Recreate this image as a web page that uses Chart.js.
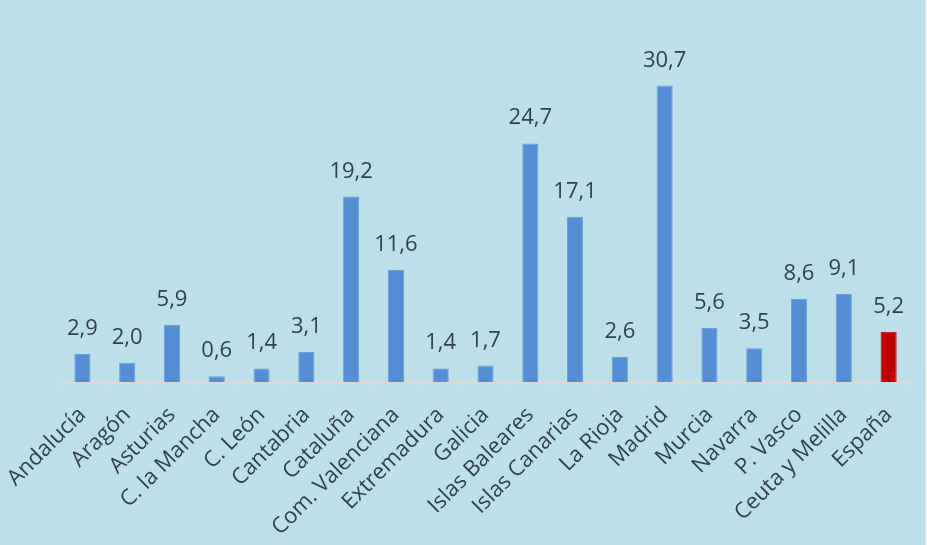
<!DOCTYPE html>
<html><head><meta charset="utf-8">
<script src="https://cdn.jsdelivr.net/npm/chart.js@4.4.1/dist/chart.umd.min.js"></script>
<style>
html,body{margin:0;padding:0;background:#ffffff;}
#wrap{width:926px;height:545px;background:#BCDFE9;}
</style></head>
<body><div id="wrap"><canvas id="c" width="926" height="545"></canvas></div>
<script>
const categories = ["Andalucía","Aragón","Asturias","C. la Mancha","C. León","Cantabria","Cataluña","Com. Valenciana","Extremadura","Galicia","Islas Baleares","Islas Canarias","La Rioja","Madrid","Murcia","Navarra","P. Vasco","Ceuta y Melilla","España"];
const values = [2.9,2.0,5.9,0.6,1.4,3.1,19.2,11.6,1.4,1.7,24.7,17.1,2.6,30.7,5.6,3.5,8.6,9.1,5.2];
const highlight = "España";

const textColor = "#333F4F";
const barColors = categories.map(c => c === highlight ? "#C00000" : "#558ED5");
const borderColors = categories.map(c => c === highlight ? "#C00000" : "#6C9DDC");

const valueLabels = {
  id: "valueLabels",
  afterDatasetsDraw(chart) {
    const ctx = chart.ctx;
    const meta = chart.getDatasetMeta(0);
    ctx.save();
    ctx.font = "22px 'Open Sans'";
    ctx.fillStyle = textColor;
    ctx.textAlign = "center";
    ctx.textBaseline = "alphabetic";
    meta.data.forEach((bar, i) => {
      ctx.fillText(values[i].toFixed(1).replace(".", ","), bar.x, bar.y - 19);
    });
    ctx.restore();
  }
};

new Chart(document.getElementById("c"), {
  type: "bar",
  data: {
    labels: categories,
    datasets: [{
      data: values,
      backgroundColor: barColors,
      borderColor: borderColors,
      borderWidth: 1,
      barPercentage: 0.36,
      categoryPercentage: 1.0
    }]
  },
  options: {
    responsive: false,
    animation: false,
    layout: { padding: { left: 60, right: 15, top: 44, bottom: 0 } },
    plugins: { legend: { display: false }, tooltip: { enabled: false } },
    scales: {
      y: { display: false, min: 0, max: 35 },
      x: {
        afterFit(s) { s.height = 163; s.paddingLeft = 0; s.paddingRight = 0; },
        grid: { drawOnChartArea: false, color: "#D9D9D9", lineWidth: 2.5, tickLength: 8, offset: true },
        border: { color: "#D9D9D9", width: 3 },
        ticks: { color: textColor, font: { family: "'Open Sans'", size: 22 }, maxRotation: 45, minRotation: 45, padding: 12, autoSkip: false }
      }
    }
  },
  plugins: [valueLabels]
});
</script></body></html>
